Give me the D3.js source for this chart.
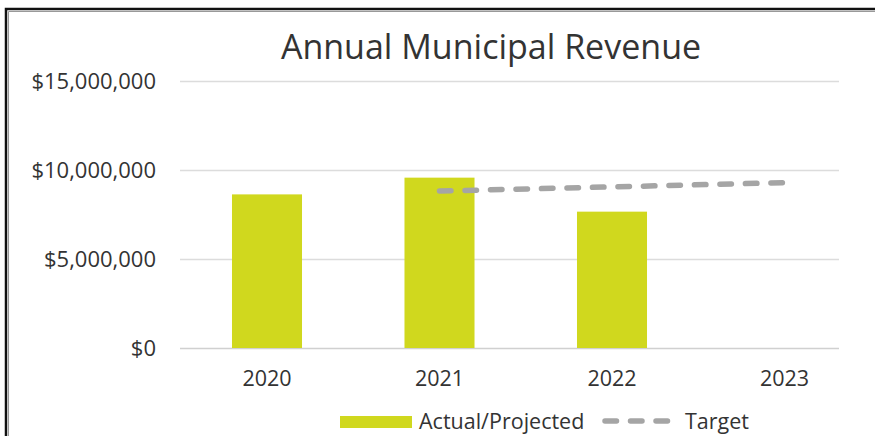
<!DOCTYPE html>
<html>
<head>
<meta charset="utf-8">
<script src="https://cdn.jsdelivr.net/npm/d3@7"></script>
<style>
	body { margin: 0; background: #fff; }
	text { font-family: "Open Sans", sans-serif; fill: #333; }
</style>
</head>
<body>
<div id="chart"></div>
<script>
// Data
const years = ["2020", "2021", "2022", "2023"];
const actual = [8630000, 9570000, 7660000, null];
const targetYears = ["2021", "2022", "2023"];
const target = [8820000, 9050000, 9290000];
const yTicks = [0, 5000000, 10000000, 15000000];

var width = 875,
	height = 436;

var svg = d3
	.select("#chart")
	.append("svg")
	.attr("width", width)
	.attr("height", height);

// Frame
svg
	.append("path")
	.attr("d", "M6,440 V9 H880")
	.attr("fill", "none")
	.attr("stroke", "#111")
	.attr("stroke-width", 2.5);
svg
	.append("path")
	.attr("d", "M8.5,440 V11.5 H880")
	.attr("fill", "none")
	.attr("stroke", "#999")
	.attr("stroke-width", 1);

// Scales
const x = d3
	.scaleBand()
	.domain(years)
	.range([180.75, 870.75])
	.paddingInner(0.594)
	.paddingOuter(0.297);

const y = d3.scaleLinear().domain([0, 15000000]).range([348, 81]);

const fmt = (d) => "$" + d3.format(",")(d);

// Gridlines
svg
	.append("g")
	.selectAll("line")
	.data(yTicks)
	.join("line")
	.attr("x1", 180)
	.attr("x2", 839)
	.attr("y1", (d) => Math.round(y(d)) + 0.5)
	.attr("y2", (d) => Math.round(y(d)) + 0.5)
	.attr("stroke", (d) => (d === 0 ? "#d0d0d0" : "#dcdcdc"))
	.attr("stroke-width", 1.3);

// y-axis labels
svg
	.append("g")
	.attr("transform", "translate(156,0)")
	.call(d3.axisLeft(y).tickValues(yTicks).tickFormat(fmt).tickSize(0).tickPadding(0))
	.call((g) => g.select(".domain").remove())
	.call((g) => g.selectAll("text").style("font-size", "22px").attr("fill", "#3a3a3a"));

// x-axis labels
svg
	.append("g")
	.attr("transform", "translate(0,371)")
	.call(d3.axisBottom(x).tickSize(0).tickPadding(0))
	.call((g) => g.select(".domain").remove())
	.call((g) => g.selectAll("text").style("font-size", "21.5px").attr("fill", "#3a3a3a"));

// Bars
svg
	.append("g")
	.selectAll("rect")
	.data(years.map((d, i) => ({ year: d, value: actual[i] })).filter((d) => d.value != null))
	.join("rect")
	.attr("x", (d) => x(d.year))
	.attr("width", x.bandwidth())
	.attr("y", (d) => y(d.value))
	.attr("height", (d) => y(0) - y(d.value))
	.attr("fill", "#d0d81e");

// Target line
const line = d3
	.line()
	.x((d, i) => x(targetYears[i]) + x.bandwidth() / 2)
	.y((d) => y(d));

svg
	.append("path")
	.attr("d", line(target))
	.attr("fill", "none")
	.attr("stroke", "#a5a5a5")
	.attr("stroke-width", 5.5)
	.attr("stroke-linecap", "round")
	.attr("stroke-dasharray", "11.5 14");

// Title
svg
	.append("text")
	.attr("x", 491)
	.attr("y", 59)
	.attr("text-anchor", "middle")
	.style("font-size", "34px")
	.attr("fill", "#222")
	.text("Annual Municipal Revenue");

// Legend
const legend = svg.append("g");
legend
	.append("rect")
	.attr("x", 340)
	.attr("y", 416)
	.attr("width", 72)
	.attr("height", 12)
	.attr("fill", "#d0d81e");
legend
	.append("text")
	.attr("x", 419)
	.attr("y", 429)
	.style("font-size", "21.5px")
	.text("Actual/Projected");
legend
	.append("line")
	.attr("x1", 605)
	.attr("x2", 668)
	.attr("y1", 421)
	.attr("y2", 421)
	.attr("stroke", "#a5a5a5")
	.attr("stroke-width", 5.5)
	.attr("stroke-linecap", "round")
	.attr("stroke-dasharray", "11.5 14");
legend
	.append("text")
	.attr("x", 685)
	.attr("y", 429)
	.style("font-size", "21.5px")
	.text("Target");
</script>
</body>
</html>
